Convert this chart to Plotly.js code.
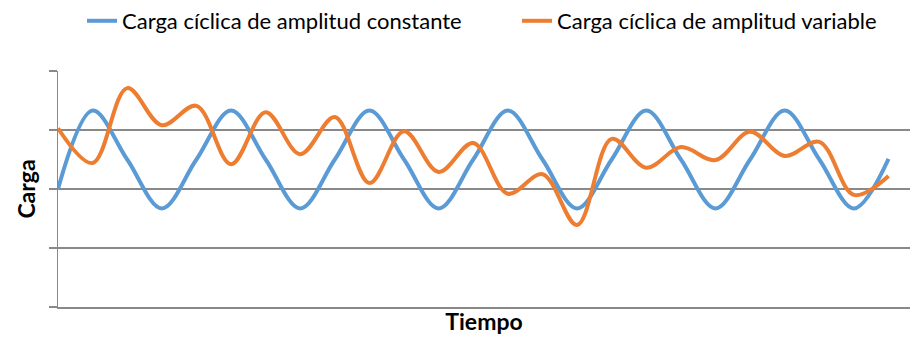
<!DOCTYPE html>
<html>
<head>
<meta charset="utf-8">
<script src="https://cdn.plot.ly/plotly-3.0.1.min.js"></script>
<style>html,body{margin:0;padding:0;background:#fff;}#chart{width:913px;height:343px;}</style>
</head>
<body>
<div id="chart"></div>
<script>
const tiempo = [0,1,2,3,4,5,6,7,8,9,10,11,12,13,14,15,16,17,18,19,20,21,22,23,24];
const cargaConstante = [2.00,3.33,2.50,1.67,2.50,3.33,2.50,1.67,2.50,3.33,2.50,1.67,2.50,3.33,2.50,1.67,2.50,3.33,2.50,1.67,2.50,3.33,2.50,1.67,2.51];
const cargaVariable = [3.03,2.44,3.71,3.08,3.41,2.42,3.30,2.59,3.22,2.10,2.98,2.29,2.78,1.92,2.25,1.39,2.85,2.36,2.71,2.49,2.97,2.56,2.80,1.90,2.22];
const nombres = ["Carga cíclica de amplitud constante","Carga cíclica de amplitud variable"];
const colores = ["#5B9BD5","#ED7D31"];
const leyendas = ["legend","legend2"];

const fontFam = "Lato, 'Open Sans', sans-serif";
const traces = [cargaConstante, cargaVariable].map((ys,i)=>({
  x: tiempo, y: ys, type:'scatter', mode:'lines', name:nombres[i], legend:leyendas[i],
  line:{color:colores[i], width:4, shape:'spline', smoothing:1}
}));

const legBase = {orientation:'h', xref:'container', yref:'container', y:1, yanchor:'top', xanchor:'left',
                 font:{size:22, family:fontFam}, bgcolor:'rgba(0,0,0,0)'};
const layout = {
  width:913, height:343,
  margin:{l:58, r:3, t:71, b:36, autoexpand:false},
  paper_bgcolor:'#fff', plot_bgcolor:'#fff',
  font:{family:fontFam, color:'#000'},
  showlegend:true,
  legend:Object.assign({}, legBase, {x:82/913}),
  legend2:Object.assign({}, legBase, {x:517/913}),
  xaxis:{range:[0,24.62], showgrid:false, zeroline:false, showticklabels:false, ticks:'',
         showline:true, linecolor:'#898989', linewidth:1.5,
         title:{text:'<b>Tiempo</b>', font:{size:23, family:fontFam}, standoff:6}},
  yaxis:{range:[0,4], dtick:1, tick0:0, showgrid:true, gridcolor:'#898989', gridwidth:1.5, zeroline:false,
         showticklabels:false, ticks:'outside', ticklen:8, tickcolor:'#898989', tickwidth:1.5,
         showline:true, linecolor:'#898989', linewidth:1.5,
         title:{text:'<b>Carga</b>', font:{size:23, family:fontFam}, standoff:6}}
};
Plotly.newPlot('chart', traces, layout, {displayModeBar:false, staticPlot:true});
</script>
</body>
</html>
